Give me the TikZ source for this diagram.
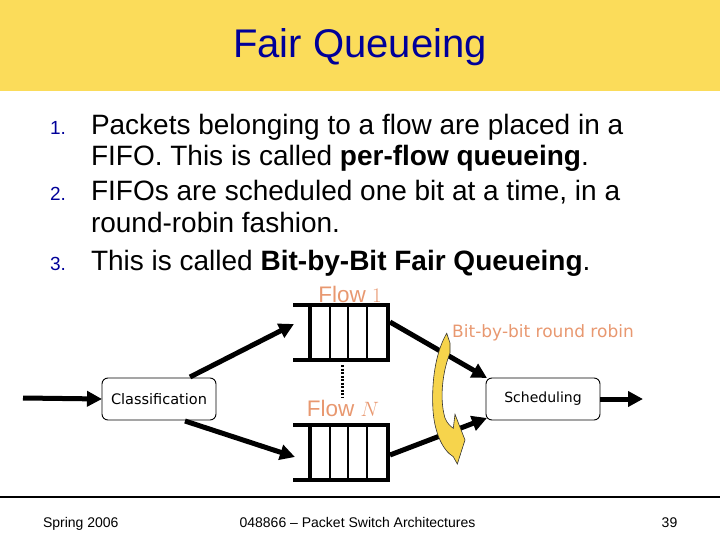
\documentclass[tikz,border=0pt]{standalone}
\usepackage{fontspec}
\setmainfont{Liberation Sans}
\newfontfamily\comicfont{DejaVu Sans}
\usetikzlibrary{arrows.meta}
\definecolor{band}{RGB}{251,220,90}
\definecolor{navy}{RGB}{0,0,153}
\definecolor{salmon}{RGB}{232,152,112}
\definecolor{gold}{RGB}{246,212,76}
\begin{document}
\begin{tikzpicture}[x=1pt,y=-1pt,
  every node/.style={inner sep=0pt, outer sep=0pt},
  titlestyle/.style={font=\fontsize{40}{48}\selectfont, text=navy},
  body/.style={font=\fontsize{28}{34}\selectfont, anchor=base west},
  num/.style={font=\fontsize{19}{24}\selectfont, text=navy, anchor=base west},
  rbox/.style={draw, line width=0.9pt, rounded corners=6pt, minimum width=114pt, minimum height=42pt},
  flowlbl/.style={font=\fontsize{22.5}{26}\selectfont, text=salmon},
  rrlbl/.style={font=\comicfont\fontsize{17}{20}\selectfont, text=salmon},
  bigarrow/.style={line width=5pt, -{Triangle[length=15pt,width=15pt]}},
  qouter/.style={line width=3.5pt},
  qinner/.style={line width=1.2pt},
  foot/.style={font=\fontsize{14}{17}\selectfont, anchor=base}
]
\useasboundingbox (0,0) rectangle (720,540);
\fill[band] (0,0) rectangle (720,91);
\node[titlestyle] (title) at (360,47) {Fair Queueing};

% bullets
\node[num] (n1) at (50,135) {1.};
\node[body] (l1) at (91,135) {Packets belonging to a flow are placed in a};
\node[body] (l2) at (91,166) {FIFO. This is called \textbf{per-flow queueing}.};
\node[num] (n2) at (50,201) {2.};
\node[body] (l3) at (91,201) {FIFOs are scheduled one bit at a time, in a};
\node[body] (l4) at (91,233) {round-robin fashion.};
\node[num] (n3) at (50,270) {3.};
\node[body] (l5) at (91,270) {This is called \textbf{Bit-by-Bit Fair Queueing}.};

% diagram nodes
\node[rbox, font=\comicfont\fontsize{14.5}{17}\selectfont] (cls) at (159,399) {Classification};
\node[rbox, font=\comicfont\fontsize{14}{17}\selectfont] (sch) at (543,399) {Scheduling};
\node[minimum width=95pt, minimum height=55pt] (q1) at (341,332.5) {};
\node[minimum width=95pt, minimum height=55pt] (qn) at (341,452.5) {};
\node[flowlbl] (f1) at (350,294) {Flow $1$};
\node[flowlbl] (fn) at (343,408) {Flow $N$};
\node[rrlbl] (rr) at (543,333) {Bit-by-bit round robin};

\coordinate (in) at (23,398);
\coordinate (out) at (643,399);

% queues
\draw[qouter] (293,305) -- (388,305) -- (388,360) -- (293,360);
\draw[qouter] (310,305) -- (310,360);
\draw[qinner] (330,305) -- (330,360) (348,305) -- (348,360) (367,305) -- (367,360);
\draw[qouter] (293,425) -- (388,425) -- (388,480) -- (293,480);
\draw[qouter] (310,425) -- (310,480);
\draw[qinner] (330,425) -- (330,480) (348,425) -- (348,480) (367,425) -- (367,480);
\draw[line width=3pt, dash pattern=on 2pt off 1.5pt] (342,365) -- (342,397);

% arrows
\draw[bigarrow] (in) -- (cls.west);
\draw[bigarrow] (190,377) -- (294,324);
\draw[bigarrow] (185,421) -- (295,457);
\draw[bigarrow] (390,322) -- (487,378);
\draw[bigarrow] (390,455) -- (487,418);
\draw[bigarrow] (sch.east) -- (out);

% yellow round-robin arrow
\draw[fill=gold, draw=black!80, line width=0.6pt]
  (446.7,333.3) -- (450,343) -- (450,353)
  .. controls (443,370) and (439,398) .. (445,418)
  .. controls (447,423) and (450,426) .. (453.3,428.3)
  -- (455,414.3) -- (465,440) -- (457.3,464) -- (453.3,456.7)
  .. controls (442,450) and (433,430) .. (432.7,403.3)
  .. controls (432,375) and (437,350) .. cycle;

% footer
\draw[line width=1.2pt] (0,497) -- (720,497);
\node[foot, anchor=base west] (ft1) at (43,527) {Spring 2006};
\node[foot] (ft2) at (357.5,527) {048866 -- Packet Switch Architectures};
\node[foot] (ft3) at (669.5,527) {39};
\end{tikzpicture}
\end{document}
